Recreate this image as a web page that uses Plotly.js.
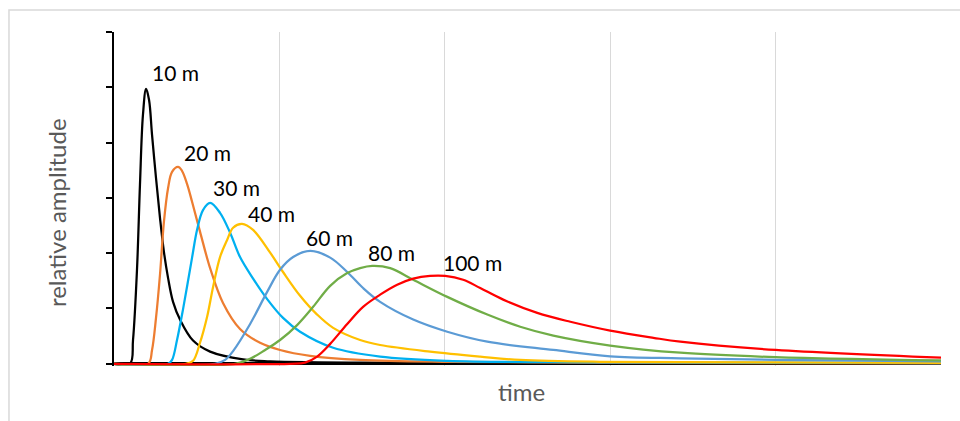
<!DOCTYPE html>
<html>
<head>
<meta charset="utf-8">
<script src="https://cdn.plot.ly/plotly-3.0.1.min.js"></script>
<style>
html,body{margin:0;padding:0;background:#fff;}
#chart{width:960px;height:421px;}
</style>
</head>
<body>
<div id="chart"></div>
<script>
// Series values (time in grid units 0..5, relative amplitude 0..6)
const seriesNames = ["10 m","20 m","30 m","40 m","60 m","80 m","100 m"];
const seriesColors = ["#000000","#ED7D31","#00B0F0","#FFC000","#5B9BD5","#70AD47","#FF0000"];

const x10 = [0,0.097,0.115,0.139,0.157,0.175,0.194,0.212,0.230,0.254,0.278,0.302,0.327,0.357,0.399,0.478,0.581,0.780,0.944,1.730,5.0];
const y10 = [0,0,0.43,1.70,3.24,4.50,4.97,4.77,4.14,3.36,2.64,2.02,1.55,1.12,0.80,0.42,0.22,0.08,0.045,0.018,0.005];

const x20 = [0,0.206,0.230,0.254,0.278,0.302,0.327,0.351,0.387,0.411,0.442,0.472,0.520,0.581,0.659,0.762,0.883,1.004,1.186,1.488,2.033,2.94,5.0];
const y20 = [0,0,0.25,0.83,1.61,2.57,3.18,3.47,3.56,3.49,3.25,2.93,2.39,1.73,1.10,0.63,0.38,0.25,0.145,0.072,0.036,0.018,0.009];

const x30 = [0,0.327,0.351,0.381,0.417,0.472,0.502,0.538,0.581,0.641,0.702,0.762,0.841,0.926,1.022,1.125,1.325,1.609,2.015,2.94,5.0];
const y30 = [0,0,0.07,0.43,0.98,1.92,2.42,2.78,2.91,2.73,2.37,1.93,1.54,1.17,0.83,0.58,0.29,0.13,0.054,0.027,0.013];

const x40 = [0,0.436,0.478,0.520,0.563,0.599,0.641,0.684,0.720,0.774,0.841,0.944,1.022,1.125,1.228,1.325,1.488,1.609,1.911,2.214,2.456,2.94,5.0];
const y40 = [0,0,0.054,0.38,0.85,1.39,1.93,2.24,2.46,2.53,2.42,2.01,1.66,1.23,0.89,0.65,0.43,0.34,0.22,0.13,0.07,0.036,0.015];

const x60 = [0,0.611,0.672,0.720,0.823,0.926,1.004,1.083,1.186,1.307,1.410,1.506,1.609,1.809,2.015,2.257,2.656,3.0,3.424,4.0,5.0];
const y60 = [0,0,0.07,0.23,0.72,1.30,1.70,1.93,2.04,1.92,1.66,1.37,1.12,0.80,0.58,0.40,0.25,0.136,0.10,0.072,0.042];

const x80 = [0,0.732,0.823,0.914,1.004,1.107,1.204,1.307,1.410,1.488,1.561,1.670,1.809,2.015,2.257,2.456,2.656,3.0,3.424,4.0,5.0];
const y80 = [0,0,0.09,0.25,0.43,0.70,1.03,1.41,1.64,1.73,1.77,1.73,1.52,1.21,0.89,0.67,0.51,0.33,0.20,0.12,0.06];

const x100 = [0,1.065,1.155,1.228,1.307,1.410,1.506,1.609,1.712,1.809,1.911,2.002,2.111,2.214,2.353,2.559,2.759,3.0,3.261,3.424,4.0,5.0];
const y100 = [0,0,0.02,0.13,0.36,0.72,1.03,1.25,1.43,1.54,1.59,1.59,1.52,1.37,1.16,0.92,0.76,0.60,0.47,0.40,0.25,0.11];

// Label positions (data units)
const labelX = [0.369,0.563,0.738,0.950,1.300,1.676,2.166];
const labelY = [5.26,3.83,3.18,2.71,2.28,2.02,1.83];

const xs = [x10,x20,x30,x40,x60,x80,x100];
const ys = [y10,y20,y30,y40,y60,y80,y100];

const traces = xs.map((x,i)=>({
  x: x, y: ys[i], type:'scatter', mode:'lines', name: seriesNames[i],
  line:{color:seriesColors[i], width:2.25, shape:'spline', smoothing:1},
  hoverinfo:'skip'
}));

const labelFont = {family:'Lato, "Open Sans", sans-serif', size:21, color:'#000000'};
const titleFont = {family:'Lato, "Open Sans", sans-serif', size:24, color:'#595959'};

const annotations = seriesNames.map((t,i)=>({
  x: labelX[i], y: labelY[i], xref:'x', yref:'y', text:t, showarrow:false,
  xanchor:'center', yanchor:'middle', font:labelFont
}));
annotations.push({
  xref:'paper', yref:'paper', x:-0.0701, y:0.458, text:'relative amplitude', textangle:-90,
  xanchor:'center', yanchor:'middle', showarrow:false, font:titleFont
});
annotations.push({
  xref:'paper', yref:'paper', x:0.4933, y:-0.0778, text:'time',
  xanchor:'center', yanchor:'middle', showarrow:false, font:titleFont
});

const layout = {
  width:960, height:421,
  margin:{l:114, r:19, t:32, b:55},
  paper_bgcolor:'#ffffff', plot_bgcolor:'#ffffff',
  showlegend:false,
  xaxis:{range:[0,5], tick0:0, dtick:1, showgrid:true, gridcolor:'#d9d9d9', gridwidth:1,
         showticklabels:false, ticks:'', showline:false, zeroline:false, fixedrange:true},
  yaxis:{range:[-0.04,6], tick0:0, dtick:1, showgrid:false, showticklabels:false,
         ticks:'outside', ticklen:6, tickwidth:2, tickcolor:'#000000',
         showline:true, linecolor:'#000000', linewidth:2,
         zeroline:true, zerolinecolor:'#000000', zerolinewidth:3, fixedrange:true},
  annotations: annotations,
  shapes:[{type:'rect', xref:'paper', yref:'paper', x0:-0.127, x1:1.04, y0:-0.25, y1:1.066,
           line:{color:'#d9d9d9', width:1.5}, fillcolor:'rgba(0,0,0,0)', layer:'below'}]
};

Plotly.newPlot('chart', traces, layout, {staticPlot:true, displayModeBar:false});
</script>
</body>
</html>
